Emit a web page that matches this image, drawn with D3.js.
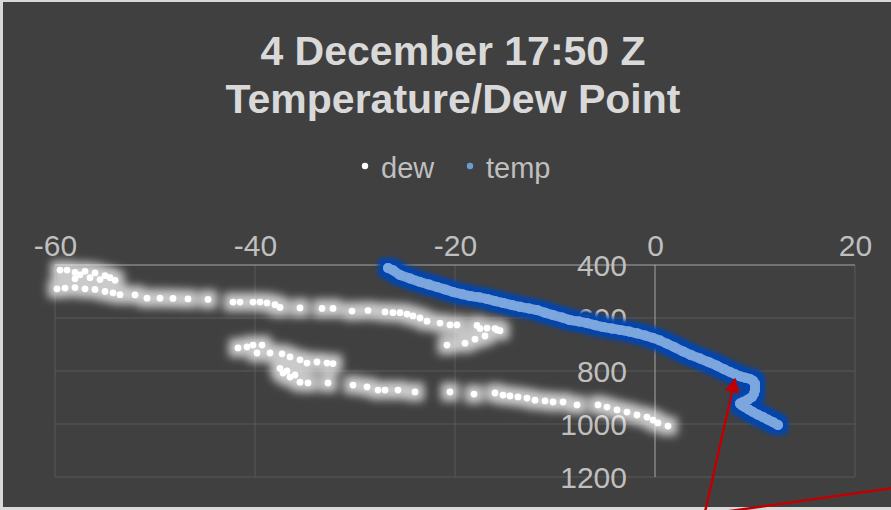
<!DOCTYPE html>
<html><head><meta charset="utf-8">
<script src="https://cdn.jsdelivr.net/npm/d3@7"></script>
<style>
html,body{margin:0;padding:0;background:#d9d9d9;}
svg{display:block;font-family:"Liberation Sans",Arial,sans-serif;}
</style></head>
<body>
<svg id="chart" width="891" height="510"></svg>
<script>
// ---- data ----
const titleLines = ["4 December 17:50 Z", "Temperature/Dew Point"];
const seriesNames = ["dew", "temp"];
const xTicks = [-60, -40, -20, 0, 20];
const yTicks = [400, 600, 800, 1000, 1200];

const tempT = [-26.7,-26.2,-25.5,-24.5,-23.5,-22.6,-21.8,-21.0,-20.2,-19.3,-18.5,-17.6,-16.8,-16.0,-15.2,-14.3,-13.5,-12.6,-11.8,-11.0,-10.2,-9.3,-8.5,-7.6,-6.8,-6.0,-5.2,-4.3,-3.5,-2.6,-1.8,-1.0,-0.2,0.5,1.2,2.0,2.8,3.6,4.5,5.4,6.2,6.9,7.5,8.0,8.5,9.0,9.5,9.8,10.0,10.0,10.0,9.9,9.7,9.3,8.8,8.5,8.7,9.0,9.4,9.8,10.3,10.8,11.3,11.8,12.3];
const tempP = [411,420,438,451,464,474,483,492,502,510,517,522,528,536,543,551,558,564,570,580,589,598,608,613,619,627,634,640,645,651,658,666,675,685,697,711,726,740,753,767,780,793,804,812,820,825,830,837,848,860,872,885,898,908,917,923,930,937,946,955,965,974,984,993,1004,1011];

const dewT = [-59.5,-58.8,-58.0,-57.5,-57.0,-56.0,-55.0,-56.5,-54.5,-58.0,-55.5,-54.0,
 -59.8,-59.0,-58.0,-57.0,-56.0,-55.0,-54.2,-53.5,-52.0,-50.8,-49.5,-48.2,-46.7,-44.7,-42.2,-41.5,-40.2,-39.5,-38.8,-38.0,-37.5,-35.5,-33.3,-32.2,-30.3,-28.7,-27.0,-26.2,-25.5,-24.8,-24.2,-23.5,-22.8,-21.5,-20.5,-19.8,-17.8,-16.8,-15.8,-17.5,-16.0,-15.5,-17.0,-18.0,-19.0,-20.8,
 -41.7,-40.8,-40.2,-39.3,-39.8,-38.5,-37.3,-36.5,-35.5,-34.8,-33.8,-32.8,-32.2,-37.5,-37.2,-36.8,-36.5,-36.0,-35.5,-34.7,-32.7,-30.2,-28.8,-27.7,-27.0,-25.7,-24.0,-20.5,-18.1,-16.0,-15.2,-14.5,-13.7,-12.8,-12.0,-11.0,-10.2,-9.2,-7.8,-5.7,-4.8,-3.8,-2.8,-1.8,-0.8,-0.2,0.3,1.3];
const dewP = [419,419,428,437,424,430,440,448,448,452,455,458,
 490,487,485,490,492,500,505,512,513,525,525,526,528,530,540,540,540,540,543,550,560,562,564,564,574,572,577,580,580,585,592,600,612,619,626,626,628,638,645,640,640,648,668,680,695,702,
 713,709,702,702,732,732,735,747,758,770,766,770,772,790,808,800,823,815,842,845,845,853,860,872,872,872,879,879,887,883,891,894,898,902,910,913,917,917,928,928,936,947,955,966,974,985,996,1008];

// ---- layout ----
const svg = d3.select("#chart");
const W = 891, H = 510;
const x = d3.scaleLinear().domain([-60, 20]).range([55, 855]);
const y = d3.scaleLinear().domain([400, 1200]).range([265, 477]);

const defs = svg.append("defs");
function glow(id, color, opacity, dil, blur) {
  const f = defs.append("filter").attr("id", id)
    .attr("x", "-20%").attr("y", "-20%").attr("width", "140%").attr("height", "140%");
  f.append("feMorphology").attr("in", "SourceAlpha").attr("operator", "dilate").attr("radius", dil).attr("result", "d");
  f.append("feGaussianBlur").attr("in", "d").attr("stdDeviation", blur).attr("result", "b");
  f.append("feFlood").attr("flood-color", color).attr("flood-opacity", opacity);
  f.append("feComposite").attr("in2", "b").attr("operator", "in").attr("result", "g");
  const m = f.append("feMerge");
  m.append("feMergeNode").attr("in", "g");
  m.append("feMergeNode").attr("in", "SourceGraphic");
}
glow("glowBlue", "#0045b0", 1, 5, 2);
glow("glowWhite", "#ffffff", 0.72, 6, 4);

// background
svg.append("rect").attr("x", 3).attr("y", 2).attr("width", W - 3).attr("height", H - 5).attr("fill", "#404040");

// gridlines
const grid = svg.append("g");
grid.selectAll("line.v").data(xTicks.filter(d => d !== 0)).join("line")
  .attr("x1", d => x(d)).attr("x2", d => x(d))
  .attr("y1", y(400)).attr("y2", y(1200))
  .attr("stroke", "#595959").attr("stroke-width", 1);
grid.selectAll("line.h").data(yTicks.filter(d => d !== 400)).join("line")
  .attr("x1", x(-60)).attr("x2", x(20))
  .attr("y1", d => y(d)).attr("y2", d => y(d))
  .attr("stroke", "#595959").attr("stroke-width", 1);
// axis lines
grid.append("line").attr("x1", x(-60)).attr("x2", x(20)).attr("y1", y(400)).attr("y2", y(400))
  .attr("stroke", "#a6a6a6").attr("stroke-width", 1);
grid.append("line").attr("x1", x(0)).attr("x2", x(0)).attr("y1", y(400)).attr("y2", y(1200))
  .attr("stroke", "#a6a6a6").attr("stroke-width", 1);

// axes
const xAxis = svg.append("g").attr("transform", `translate(0,${y(400)})`)
  .call(d3.axisTop(x).tickValues(xTicks).tickSize(0).tickPadding(9).tickFormat(d => String(d)));
const yAxis = svg.append("g").attr("transform", `translate(${x(0)},0)`)
  .call(d3.axisLeft(y).tickValues(yTicks).tickSize(0).tickPadding(28).tickFormat(d => String(d)));
[xAxis, yAxis].forEach(a => {
  a.select(".domain").remove();
  a.selectAll("text").attr("fill", "#bfbfbf").style("font-size", "30px")
    .style("font-family", '"Liberation Sans",Arial,sans-serif');
});
yAxis.selectAll("text").attr("dy", "0.36em");

// dew series
const dew = dewT.map((t, i) => ({t, p: dewP[i]}));
svg.append("g").attr("filter", "url(#glowWhite)")
  .selectAll("circle").data(dew).join("circle")
  .attr("cx", d => x(d.t)).attr("cy", d => y(d.p)).attr("r", 3.4)
  .attr("fill", "#ffffff");

// temp series
const temp = tempT.map((t, i) => ({t, p: tempP[i]}));
const tg = svg.append("g").attr("filter", "url(#glowBlue)");
tg.append("path").datum(temp)
  .attr("d", d3.line().x(d => x(d.t)).y(d => y(d.p)).curve(d3.curveLinear))
  .attr("fill", "none").attr("stroke", "#78a2db").attr("stroke-width", 9.5)
  .attr("stroke-linejoin", "round").attr("stroke-linecap", "round");
tg.selectAll("circle").data(temp).join("circle")
  .attr("cx", d => x(d.t)).attr("cy", d => y(d.p)).attr("r", 5)
  .attr("fill", "#7ca6de");

// title
svg.append("g").selectAll("text").data(titleLines).join("text")
  .attr("x", 453).attr("y", (d, i) => 65 + i * 48)
  .attr("text-anchor", "middle").attr("fill", "#d9d9d9")
  .style("font-size", "41px").style("font-weight", "bold")
  .text(d => d);

// legend
const legColors = ["#ffffff", "#6f9ad6"];
const legX = [365, 470];
const lg = svg.append("g");
seriesNames.forEach((n, i) => {
  lg.append("circle").attr("cx", legX[i]).attr("cy", 166).attr("r", 3.2).attr("fill", legColors[i]);
  lg.append("text").attr("x", legX[i] + 16).attr("y", 178).attr("fill", "#bfbfbf")
    .style("font-size", "29px").text(n);
});

// red annotation arrow
defs.append("marker").attr("id", "arrow").attr("viewBox", "0 0 10 10")
  .attr("refX", 9).attr("refY", 5).attr("markerWidth", 6).attr("markerHeight", 6)
  .attr("markerUnits", "strokeWidth").attr("orient", "auto")
  .append("path").attr("d", "M0,0 L10,5 L0,10 z").attr("fill", "#c00000");
svg.append("line").attr("x1", 705).attr("y1", 512).attr("x2", 735).attr("y2", 379)
  .attr("stroke", "#c00000").attr("stroke-width", 2.5).attr("marker-end", "url(#arrow)");
svg.append("line").attr("x1", 723).attr("y1", 512).attr("x2", 892).attr("y2", 488)
  .attr("stroke", "#c00000").attr("stroke-width", 2.5);
</script>
</body></html>
